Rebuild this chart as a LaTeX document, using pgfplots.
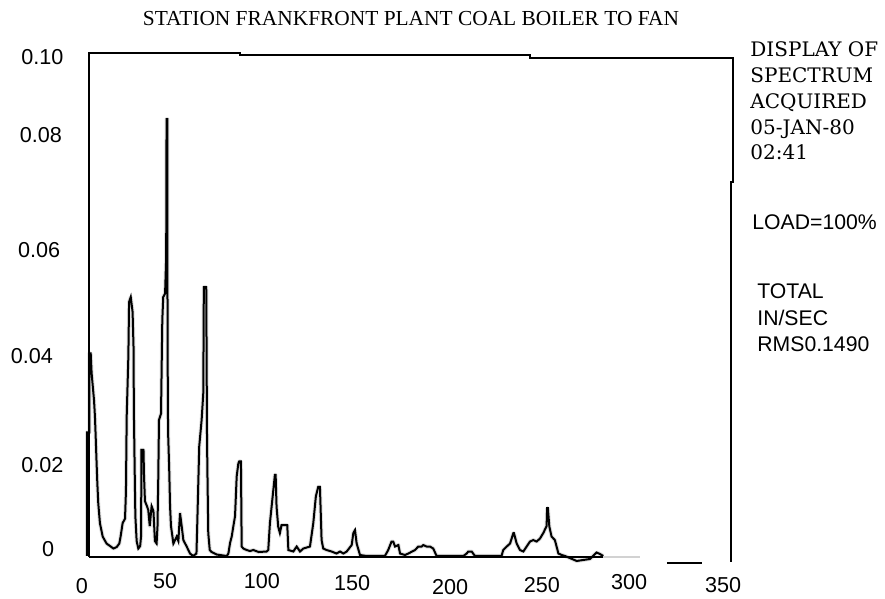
\documentclass[border=0pt]{standalone}
\usepackage{pgfplots}
\pgfplotsset{compat=1.18}
\usepackage{pgfplotstable}
\usepackage{fontspec}
\setmainfont{Liberation Serif}
\newfontfamily\sansf{Liberation Sans}
\newfontfamily\monof{DejaVu Serif}

\pgfplotstableread{
x y
0.0 0.0000
0.0 0.0248
1.3 0.0248
1.3 0.0407
2.0 0.0407
2.5 0.0367
3.8 0.0313
4.3 0.0280
4.7 0.0240
5.2 0.0186
5.6 0.0146
6.1 0.0106
7.0 0.0066
8.5 0.0039
10.6 0.0025
12.5 0.0020
14.3 0.0015
16.1 0.0018
17.5 0.0025
18.2 0.0039
19.3 0.0066
20.6 0.0075
21.1 0.0130
21.5 0.0280
22.4 0.0400
22.8 0.0510
23.7 0.0520
24.7 0.0490
25.2 0.0420
25.4 0.0290
25.8 0.0180
26.2 0.0080
26.9 0.0030
27.8 0.0015
28.8 0.0020
29.3 0.0040
29.5 0.0213
30.6 0.0213
30.9 0.0160
31.4 0.0110
32.5 0.0100
33.2 0.0092
34.0 0.0060
35.0 0.0100
36.0 0.0090
36.8 0.0030
37.7 0.0025
38.2 0.0060
38.6 0.0153
39.0 0.0273
40.1 0.0286
40.8 0.0474
41.3 0.0520
42.3 0.0527
42.9 0.0600
43.1 0.0877
43.6 0.0877
43.6 0.0530
43.8 0.0300
44.0 0.0240
44.5 0.0180
45.0 0.0100
45.5 0.0060
46.8 0.0025
48.6 0.0039
49.5 0.0030
50.4 0.0086
51.3 0.0060
52.2 0.0032
54.0 0.0019
55.8 0.0005
57.5 0.0000
59.3 0.0005
59.7 0.0059
60.8 0.0220
62.1 0.0273
63.0 0.0327
63.3 0.0540
64.6 0.0540
64.8 0.0400
65.0 0.0250
65.2 0.0180
65.7 0.0046
66.5 0.0012
67.5 0.0008
70.2 0.0003
75.7 0.0000
76.6 0.0005
77.5 0.0026
78.4 0.0039
79.3 0.0060
80.2 0.0080
81.1 0.0160
82.0 0.0186
82.5 0.0190
83.4 0.0190
83.8 0.0019
84.7 0.0015
86.5 0.0012
88.3 0.0010
90.1 0.0012
93.0 0.0008
97.3 0.0009
98.2 0.0012
99.1 0.0066
100.6 0.0120
101.8 0.0163
102.2 0.0163
102.7 0.0099
103.6 0.0059
104.5 0.0046
105.4 0.0062
108.5 0.0062
109.1 0.0012
111.8 0.0009
113.6 0.0019
115.4 0.0009
117.2 0.0015
120.8 0.0019
122.6 0.0066
124.0 0.0120
125.3 0.0139
126.2 0.0139
127.1 0.0032
128.0 0.0015
129.8 0.0012
132.5 0.0009
135.2 0.0005
137.1 0.0009
138.9 0.0005
140.7 0.0009
143.4 0.0022
144.3 0.0046
145.2 0.0052
146.1 0.0025
147.9 0.0002
151.5 0.0000
161.4 0.0000
163.2 0.0012
165.0 0.0029
165.9 0.0029
166.9 0.0019
168.7 0.0022
169.6 0.0005
172.3 0.0002
174.1 0.0005
177.7 0.0012
179.5 0.0019
181.3 0.0019
182.2 0.0022
184.0 0.0019
185.8 0.0019
187.6 0.0015
189.4 0.0000
203.9 0.0000
205.7 0.0005
206.6 0.0009
208.4 0.0009
210.2 0.0000
224.6 0.0000
225.5 0.0012
227.4 0.0019
229.2 0.0025
231.0 0.0046
231.3 0.0046
232.8 0.0025
234.6 0.0012
236.4 0.0009
238.2 0.0019
240.0 0.0029
241.8 0.0032
243.6 0.0029
245.4 0.0035
247.2 0.0046
249.0 0.0060
249.3 0.0096
249.7 0.0096
250.5 0.0059
251.7 0.0039
253.5 0.0032
255.4 0.0005
257.2 0.0002
259.0 0.0000
265.3 -0.0010
268.9 -0.0008
272.5 -0.0006
276.1 0.0007
277.9 0.0004
279.7 0.0000
}\spec

\begin{document}
\begin{tikzpicture}
\path[use as bounding box] (0,0) rectangle (442.5pt,299.5pt);
\begin{axis}[
  at={(44.5pt,21pt)}, anchor=south west,
  scale only axis, width=322pt, height=252pt,
  xmin=1.08, xmax=350, ymin=-0.0002, ymax=0.101,
  axis line style={draw=none},
  major tick length=0pt,
  clip=false,
  /pgf/number format/assume math mode=true,
  xtick={1.08,42.3,94.8,143.6,196.7,246.5,293.7,344.6},
  xticklabels={%
    \mbox{\raisebox{-2.5pt}{\hspace*{-7pt}0}},
    \mbox{50},
    \mbox{100},
    \mbox{\raisebox{-1.2pt}{150}},
    \mbox{\raisebox{-3pt}{200}},
    \mbox{\raisebox{-2pt}{250}},
    \mbox{\raisebox{-0.5pt}{300}},
    \mbox{\raisebox{-2pt}{350}}},
  ytick={0.0014,0.0183,0.0402,0.0614,0.0845,0.1002},
  yticklabels={%
    \mbox{0\hspace*{4.6pt}},
    \mbox{0.02},
    \mbox{0.04\hspace*{5.3pt}},
    \mbox{0.06\hspace*{1.65pt}},
    \mbox{0.08\hspace*{0.8pt}},
    \mbox{0.10}},
  tick label style={font=\sansf\fontsize{10.8}{13}\selectfont},
  xticklabel style={anchor=base, yshift=-15.6pt},
  yticklabel style={anchor=east, xshift=-9.25pt},
]
\addplot[gray!25, line width=2pt, line join=round] table[x=x,y=y] {\spec};
\addplot[black, line width=1pt, line join=miter] table[x=x,y=y] {\spec};
% frame
\draw[black, line width=1pt] (axis cs:1.08,-0.0002) -- (axis cs:1.08,0.1010) -- (axis cs:82.9,0.1010)
  -- (axis cs:82.9,0.1006) -- (axis cs:240,0.1006) -- (axis cs:240,0.1000) -- (axis cs:350,0.1000)
  -- (axis cs:350,0.0751) -- (axis cs:348.9,0.0751) -- (axis cs:348.9,-0.0012);
\draw[black, line width=1pt] (axis cs:1.08,-0.0003) -- (axis cs:279.7,-0.0003);
\draw[gray!35, line width=1pt] (axis cs:279.7,-0.0003) -- (axis cs:299.6,-0.0003);
\draw[black, line width=1pt] (axis cs:314.2,-0.0014) -- (axis cs:333.2,-0.0014);
\end{axis}
\node[anchor=base, inner sep=0pt, font=\fontsize{10.7}{12}\selectfont] at (205.5pt,286.96pt)
  {STATION FRANKFRONT PLANT COAL BOILER TO FAN};
\begin{scope}[every node/.style={anchor=base west, inner sep=0pt, font=\monof\fontsize{10}{12}\selectfont}]
\node at (375pt,271.4pt) {DISPLAY OF};
\node at (375pt,258.4pt) {SPECTRUM};
\node at (375pt,245.4pt) {ACQUIRED};
\node at (375pt,232.4pt) {05-JAN-80};
\node at (375pt,219.9pt) {02:41};
\end{scope}
\begin{scope}[every node/.style={anchor=base west, inner sep=0pt, font=\sansf\fontsize{10.6}{13}\selectfont}]
\node at (376pt,184.7pt) {LOAD=100\%};
\node at (378.5pt,150.2pt) {TOTAL};
\node at (378.5pt,136.7pt) {IN/SEC};
\node at (378.5pt,123.7pt) {RMS0.1490};
\end{scope}
\end{tikzpicture}
\end{document}
